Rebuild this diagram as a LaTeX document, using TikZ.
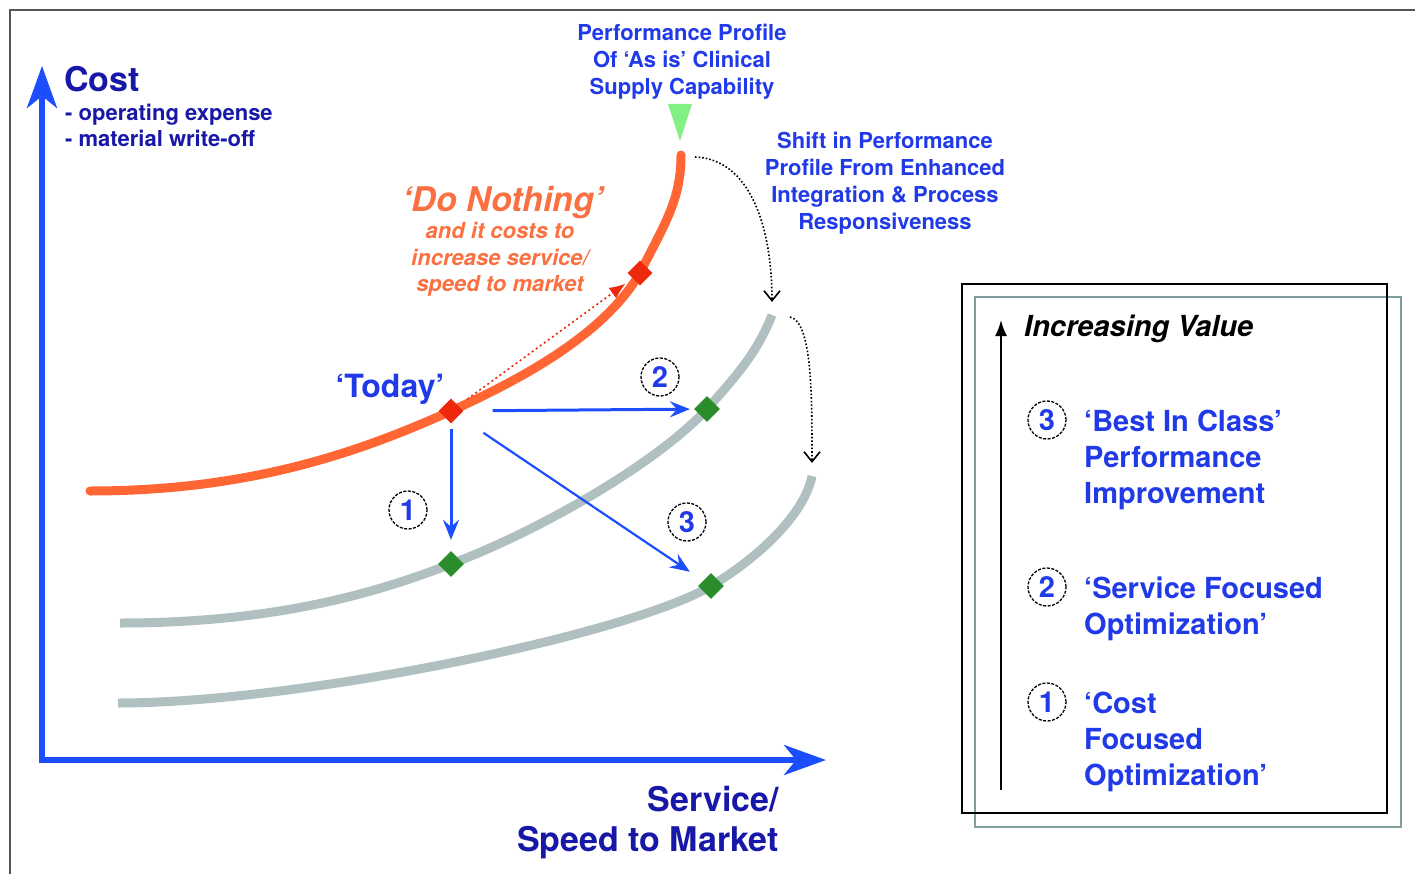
\documentclass[tikz,border=0pt]{standalone}
\usepackage{fontspec}
\setmainfont{TeX Gyre Heros}
\usetikzlibrary{arrows.meta, positioning, shapes.geometric}

\definecolor{axisblue}{RGB}{28,78,255}
\definecolor{navy}{RGB}{24,24,168}
\definecolor{txtblue}{RGB}{32,58,232}
\definecolor{curveorange}{RGB}{255,102,51}
\definecolor{dnorange}{RGB}{250,112,64}
\definecolor{diamred}{RGB}{238,40,12}
\definecolor{curvegray}{RGB}{176,192,192}
\definecolor{diamgreen}{RGB}{42,140,42}
\definecolor{asisgreen}{RGB}{130,240,130}
\definecolor{boxteal}{RGB}{128,158,158}
\definecolor{framegray}{RGB}{85,85,85}

\newcommand{\fsz}[2]{\fontsize{#1}{#2}\selectfont}

\tikzset{
  axis/.style={axisblue, line width=5.5pt, -{Stealth[length=42pt,width=30pt,inset=12pt]}},
  opt/.style={axisblue, line width=3pt, -{Stealth[length=20pt,width=16pt,inset=7pt]}},
  shiftarrow/.style={black, line width=1.6pt, dotted, -{Straight Barb[length=10pt,width=16pt]}},
  redmark/.style={diamond, fill=diamred, minimum size=25pt, inner sep=0pt},
  greenmark/.style={diamond, fill=diamgreen, minimum size=26pt, inner sep=0pt},
  num/.style={circle, draw=black, line width=1.3pt, dash pattern=on 3pt off 1.5pt,
              minimum size=38pt, inner sep=0pt, text=txtblue, font=\fsz{29}{29}\bfseries},
  bluelbl/.style={text=txtblue, inner sep=0pt, align=center, font=\fsz{22}{27}\bfseries},
  dnlbl/.style={text=dnorange, inner sep=0pt, align=center, font=\fsz{22}{26.5}\bfseries\itshape},
  boxlbl/.style={text=txtblue, inner sep=0pt, align=left, anchor=north west, font=\fsz{29}{36}\bfseries}
}

\begin{document}
\begin{tikzpicture}[x=1pt, y=-1pt]
\useasboundingbox (0,0) rectangle (1415,874);
\draw[framegray, line width=2.5pt] (10,874) -- (10,10) -- (1415,10);

% Achsen
\coordinate (origin) at (42,760);
\coordinate (ytop) at (42,66);
\coordinate (xend) at (826,760);
\draw[axis] ([yshift=-2.75pt]origin) -- (ytop); %y-Achse
\draw[axis] ([xshift=-2.75pt]origin) -- (xend); %x-Achse

\node[anchor=base west, inner sep=0pt, text=navy, font=\fsz{34}{34}\bfseries] (costlbl) at (64,92) {Cost};
\node[anchor=north west, inner sep=0pt, align=left, text=navy, font=\fsz{22}{26}\bfseries] (costsub) at (65,104)
  {- operating expense\\- material write-off};
\node[anchor=north east, inner sep=0pt, align=right, text=navy, font=\fsz{34}{40}\bfseries] (servlbl) at (779,786)
  {Service/\\Speed to Market};

% Kurven
\coordinate (asistop) at (681,155);
\coordinate (top1) at (772,315);
\coordinate (top2) at (812,476);
\draw[curvegray, line width=9pt] (118,703) .. controls (300,703) and (631,634) .. (711,586)
  .. controls (756,559) and (804,516) .. (top2);
\draw[curvegray, line width=9pt] (120,623) .. controls (280,623) and (381,591) .. (451,564)
  .. controls (541,530) and (657,463) .. (707,409)
  .. controls (737,375) and (757,353) .. (top1);
\draw[curveorange, line width=9pt, line cap=round] (90,491) .. controls (250,491) and (360,452) .. (451,411)
  .. controls (526,377) and (605,333) .. (640,273)
  .. controls (665,223) and (681,200) .. (asistop);

% Punkte
\node[redmark] (today) at (451,411) {};
\node[redmark] (dn) at (640,273) {};
\node[greenmark] (cfo) at (451,564) {};
\node[greenmark] (sfo) at (707,409) {};
\node[greenmark] (bic) at (711,586) {};

\fill[asisgreen] (668,104) -- (692,104) -- (680,141) -- cycle;

\node[bluelbl, anchor=north] (asislbl) at (682,24)
  {Performance Profile\\Of ‘As is’ Clinical\\Supply Capability};
\node[bluelbl, anchor=north] (shiftlbl) at (885,132)
  {Shift in Performance\\Profile From Enhanced\\Integration \& Process\\Responsiveness};

\draw[shiftarrow] ([xshift=14pt,yshift=-2pt]asistop) .. controls +(55,2) and +(0,-75) .. ([yshift=13pt]top1);
\draw[shiftarrow] ([xshift=18pt,yshift=-2pt]top1) .. controls +(22,5) and +(0,-70) .. ([yshift=13pt]top2);

\node[anchor=base, inner sep=0pt, text=txtblue, font=\fsz{32}{32}\bfseries] (todaylbl) at (390,397) {‘Today’};
\node[anchor=base, inner sep=0pt, text=dnorange, font=\fsz{34}{34}\bfseries\itshape] (dnlbl) at (503,212) {‘Do Nothing’};
\node[dnlbl, anchor=north] (dnsub) at (500,222) {and it costs to\\increase service/\\speed to market};

\draw[diamred, line width=1.6pt, dash pattern=on 2pt off 3pt, -{Latex[length=16pt,width=13pt]},
  shorten <=11pt, shorten >=9pt] (today) -- (dn);

\draw[opt, shorten <=5pt, shorten >=11pt] (today) -- (cfo);
\draw[opt, shorten <=29pt, shorten >=4pt] (today) -- (sfo);
\draw[opt, line width=2.2pt, shorten <=30pt, shorten >=16pt] (today) -- (bic);

\node[num] (n1) at (408,510) {1};
\node[num] (n2) at (660,377) {2};
\node[num] (n3) at (687,522) {3};

% Legende
\draw[boxteal, line width=1.5pt] (975,297) rectangle (1401,827);
\draw[black, line width=2pt] (962,284) rectangle (1387,813);
\coordinate (vbot) at (1001,790);
\coordinate (vtop) at (1001,320);
\draw[black, line width=2pt, -{Latex[length=16pt,width=12pt]}] (vbot) -- (vtop);
\node[anchor=base west, inner sep=0pt, font=\fsz{29}{29}\bfseries\itshape] (incval) at (1024,336) {Increasing Value};

\node[num] (k3) at (1047,420) {3};
\node[boxlbl] (bictxt) at (1084,410) {‘Best In Class’\\Performance\\Improvement};
\node[num] (k2) at (1047,587) {2};
\node[boxlbl] (sfotxt) at (1084,577) {‘Service Focused\\Optimization’};
\node[num] (k1) at (1047,702) {1};
\node[boxlbl] (cfotxt) at (1084,692) {‘Cost\\Focused\\Optimization’};
\end{tikzpicture}
\end{document}
